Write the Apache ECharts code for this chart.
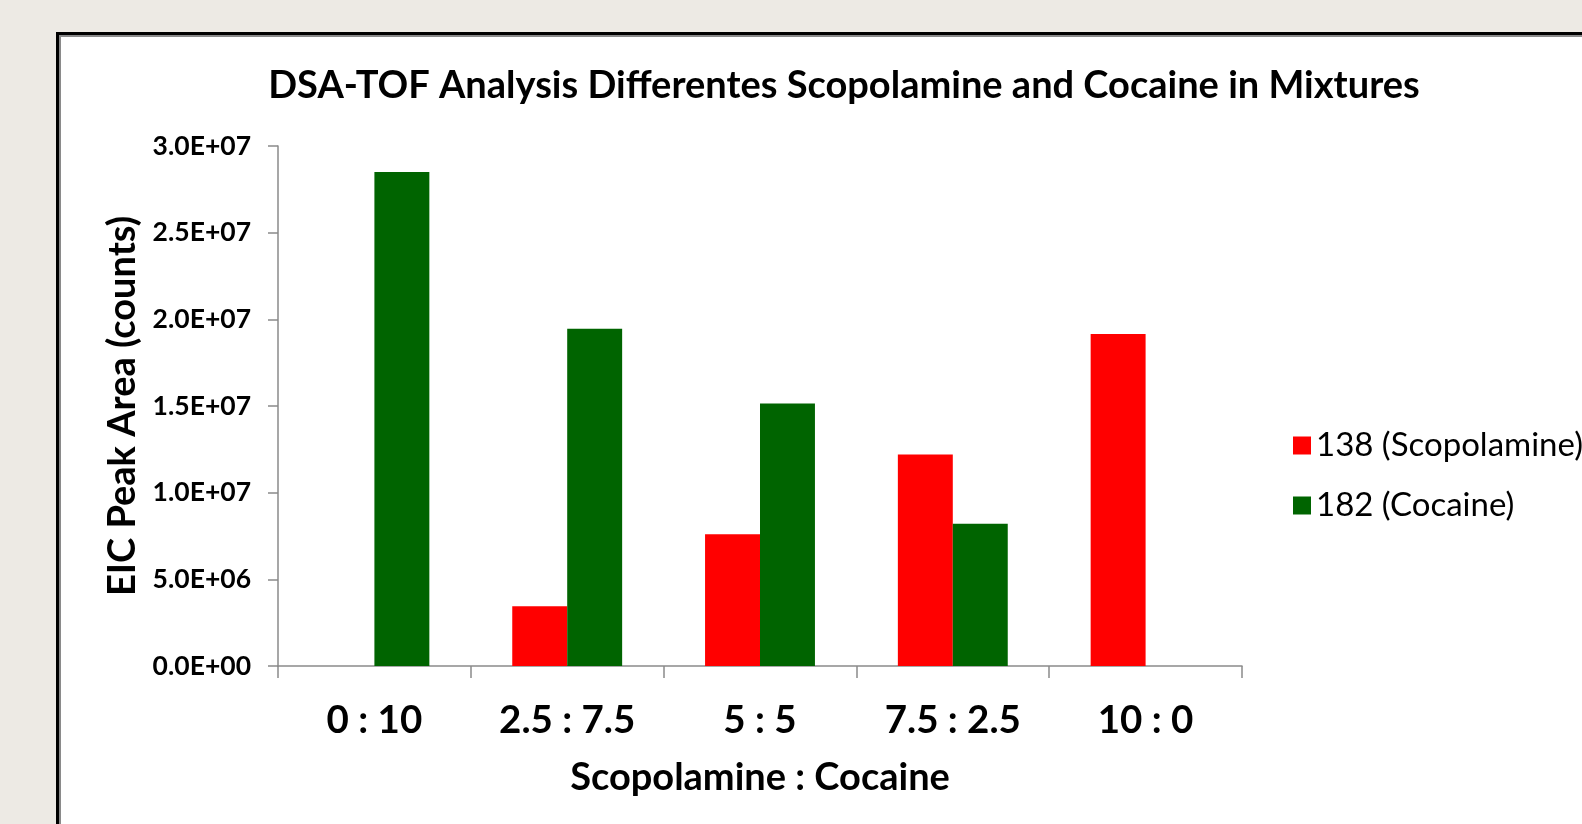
<!DOCTYPE html>
<html>
<head>
<meta charset="utf-8">
<script src="https://cdn.jsdelivr.net/npm/echarts@6/dist/echarts.min.js"></script>
<style>
    html, body { margin: 0; padding: 0; background: #edeae4; overflow: hidden; }
    #frame {
        position: absolute; left: 56px; top: 32px; width: 1600px; height: 900px;
        background: #fff; border-left: 3px solid #000; border-top: 3px solid #000;
        box-shadow: inset 2px 2px 0 #8a8a8a;
    }
    #main { position: absolute; left: 0; top: 0; width: 1582px; height: 824px; }
</style>
</head>
<body>
<div id="frame"></div>
<div id="main"></div>
<script>
// 数据
var categories = ['0 : 10', '2.5 : 7.5', '5 : 5', '7.5 : 2.5', '10 : 0'];
var scopolamine = [0, 3.45e6, 7.6e6, 1.22e7, 1.915e7];
var cocaine = [2.85e7, 1.945e7, 1.515e7, 8.2e6, 0];
var seriesNames = ['138 (Scopolamine)', '182 (Cocaine)'];

var font = 'Lato, "Open Sans", sans-serif';

// 科学计数法 3.0E+07
function sci(v) {
    var s = v.toExponential(1).split('e');
    var exp = parseInt(s[1]);
    var e = Math.abs(exp) < 10 ? '0' + Math.abs(exp) : '' + Math.abs(exp);
    return s[0] + 'E' + (exp < 0 ? '-' : '+') + e;
}

var myChart = echarts.init(document.getElementById('main'));
var option = {
    backgroundColor: 'transparent',
    title: {
        text: 'DSA-TOF Analysis Differentes Scopolamine and Cocaine in Mixtures',
        left: 839,
        top: 62,
        textAlign: 'center',
        textStyle: { fontFamily: font, fontSize: 38, fontWeight: 'bold', color: '#000' }
    },
    legend: {
        orient: 'vertical',
        left: 1288,
        top: 423,
        itemWidth: 18,
        itemHeight: 18,
        itemGap: 25,
        icon: 'rect',
        data: seriesNames,
        textStyle: { fontFamily: font, fontSize: 33, color: '#000', lineHeight: 35 }
    },
    grid: { left: 278, top: 146, right: 340, bottom: 158, containLabel: false },
    xAxis: {
        type: 'category',
        data: categories,
        name: 'Scopolamine : Cocaine',
        nameLocation: 'middle',
        nameGap: 93,
        nameTextStyle: { fontFamily: font, fontSize: 38, fontWeight: 'bold', color: '#000' },
        axisLine: { lineStyle: { color: '#8a8a8a', width: 1.5 } },
        axisTick: { show: true, length: 12, lineStyle: { color: '#8a8a8a', width: 1.5 } },
        axisLabel: { margin: 35, fontFamily: font, fontSize: 38.5, fontWeight: 'bold', color: '#000' }
    },
    yAxis: {
        type: 'value',
        min: 0,
        max: 3e7,
        interval: 5e6,
        name: 'EIC Peak Area (counts)',
        nameLocation: 'middle',
        nameGap: 132,
        nameTextStyle: { fontFamily: font, fontSize: 38, fontWeight: 'bold', color: '#000' },
        axisLine: { show: true, lineStyle: { color: '#8a8a8a', width: 1.5 } },
        axisTick: { show: true, length: 10, lineStyle: { color: '#8a8a8a', width: 1.5 } },
        splitLine: { show: false },
        axisLabel: {
            margin: 27,
            fontFamily: font, fontSize: 26.5, fontWeight: 'bold', color: '#000',
            formatter: function (v) { return sci(v); }
        }
    },
    series: [{
        name: seriesNames[0],
        type: 'bar',
        data: scopolamine,
        barGap: '0%',
        barCategoryGap: '43%',
        itemStyle: { color: '#ff0000' }
    }, {
        name: seriesNames[1],
        type: 'bar',
        data: cocaine,
        barGap: '0%',
        barCategoryGap: '43%',
        itemStyle: { color: '#006400' }
    }]
};
myChart.setOption(option);
</script>
</body>
</html>
